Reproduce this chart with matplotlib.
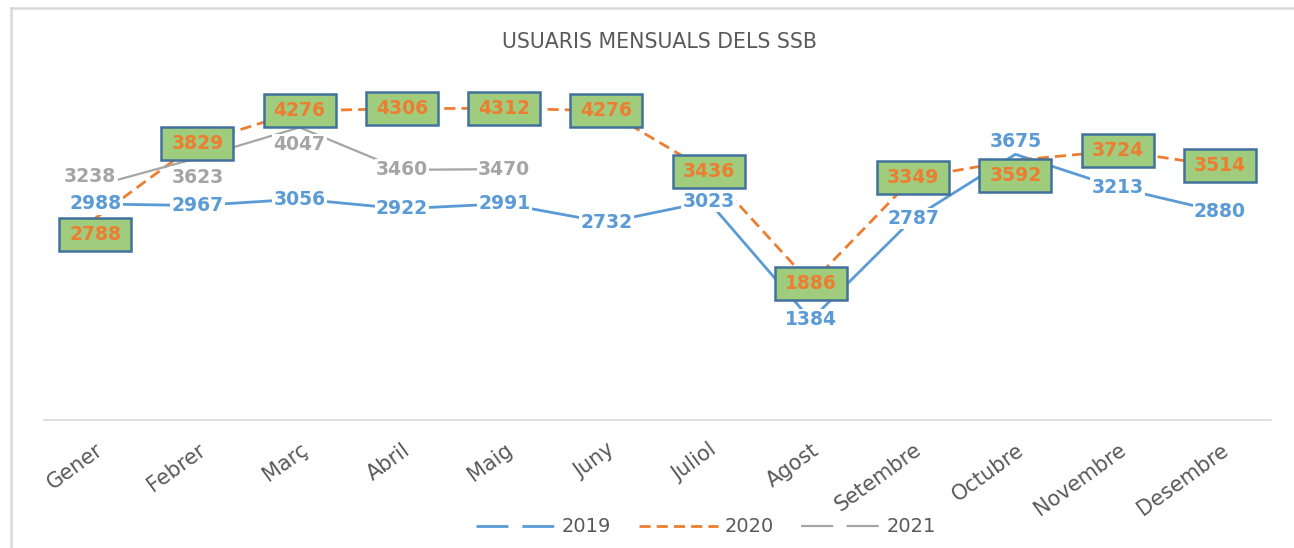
import matplotlib
matplotlib.use("Agg")
import matplotlib.pyplot as plt
import matplotlib.transforms as mtransforms
from matplotlib.patches import Rectangle
from matplotlib.lines import Line2D

months = ["Gener", "Febrer", "Març", "Abril", "Maig", "Juny", "Juliol",
          "Agost", "Setembre", "Octubre", "Novembre", "Desembre"]
s2019 = [2988, 2967, 3056, 2922, 2991, 2732, 3023, 1384, 2787, 3675, 3213, 2880]
s2020 = [2788, 3829, 4276, 4306, 4312, 4276, 3436, 1886, 3349, 3592, 3724, 3514]
s2021 = [3238, 3623, 4047, 3460, 3470]
title = "USUARIS MENSUALS DELS SSB"

BLUE = "#5B9BD5"
ORANGE = "#ED7D31"
GRAY = "#A5A5A5"
TXT = "#595959"
BOXFILL = "#A0CC7E"
BOXEDGE = "#41719C"

plt.rcParams["font.family"] = ["DejaVu Sans"]

fig = plt.figure(figsize=(12.94, 5.48), dpi=100)
W, H = 1294, 548
ax = fig.add_axes([44 / W, 128 / H, (1271 - 44) / W, 361.5 / H])
ax.set_xlim(-0.5, 11.5)
ax.set_ylim(0, 5000)

x = list(range(len(months)))
ax.plot(x, s2019, color=BLUE, lw=2.0, zorder=2, solid_capstyle="butt")
ax.plot(x, s2020, color=ORANGE, lw=2.0, dashes=(4, 2.2), zorder=2)
ax.plot(x[:len(s2021)], s2021, color=GRAY, lw=1.6, zorder=2)

for sp in ["top", "left", "right"]:
    ax.spines[sp].set_visible(False)
ax.spines["bottom"].set_color("#D9D9D9")
ax.spines["bottom"].set_linewidth(1.2)
ax.set_yticks([])
ax.set_xticks(x)
ax.set_xticklabels(months, rotation=36, ha="right", va="center",
                   rotation_mode="anchor", fontsize=15, color=TXT)
ax.tick_params(axis="x", length=0, pad=20)
shift = mtransforms.ScaledTranslation(6 / 100, 0, fig.dpi_scale_trans)
for lbl in ax.get_xticklabels():
    lbl.set_transform(lbl.get_transform() + shift)

def pix(dx, dy):
    return mtransforms.offset_copy(ax.transData, fig=fig, x=dx, y=dy, units="dots")

# 2019 labels
off2019 = {9: (0, 13)}
for i, v in enumerate(s2019):
    dx, dy = off2019.get(i, (0, 0))
    ax.text(i, v, str(v), transform=pix(dx, dy), ha="center", va="center",
            color=BLUE, fontsize=13.5, fontweight="bold", zorder=5,
            bbox=dict(facecolor="white", edgecolor="none", pad=1.0))

# 2021 labels
off2021 = {0: (-5, 9), 1: (0, -19), 2: (0, -17)}
for i, v in enumerate(s2021):
    dx, dy = off2021.get(i, (0, 0))
    ax.text(i, v, str(v), transform=pix(dx, dy), ha="center", va="center",
            color=GRAY, fontsize=13.5, fontweight="bold", zorder=5,
            bbox=dict(facecolor="white", edgecolor="none", pad=1.0))

# 2020 boxed labels
off2020 = {0: (0, -16), 9: (0, -15)}
bw, bh = 72, 33
for i, v in enumerate(s2020):
    dx, dy = off2020.get(i, (0, 0))
    tr = mtransforms.IdentityTransform() + mtransforms.ScaledTranslation(i, v, ax.transData)
    rect = Rectangle((dx - bw / 2, dy - bh / 2), bw, bh, transform=tr,
                     facecolor=BOXFILL, edgecolor=BOXEDGE, lw=1.8, zorder=6)
    ax.add_artist(rect)
    ax.text(i, v, str(v), transform=pix(dx, dy), ha="center", va="center",
            color=ORANGE, fontsize=13.5, fontweight="bold", zorder=7)

fig.text(0.5 * (497 + 822) / W, 1 - 42 / H, title, ha="center", va="center",
         fontsize=14.8, color=TXT)

handles = [
    Line2D([], [], color=BLUE, lw=2.0, dashes=(11.5, 5)),
    Line2D([], [], color=ORANGE, lw=2.0, dashes=(4, 2.2)),
    Line2D([], [], color=GRAY, lw=1.6, dashes=(14.5, 6)),
]
leg = fig.legend(handles, ["2019", "2020", "2021"], loc="center",
                 bbox_to_anchor=(706 / W, 1 - 527 / H), ncol=3, frameon=False,
                 fontsize=14, handlelength=4.1, handletextpad=0.3,
                 columnspacing=1.4, labelcolor=TXT)

# chart frame (light gray)
fig.add_artist(Line2D([11 / W, 11 / W], [0, 1 - 8 / H], transform=fig.transFigure,
                      color="#D9D9D9", lw=1.8))
fig.add_artist(Line2D([11 / W, 1], [1 - 8 / H, 1 - 8 / H], transform=fig.transFigure,
                      color="#D9D9D9", lw=1.8))

fig.savefig("out.png", dpi=100, facecolor="white")
